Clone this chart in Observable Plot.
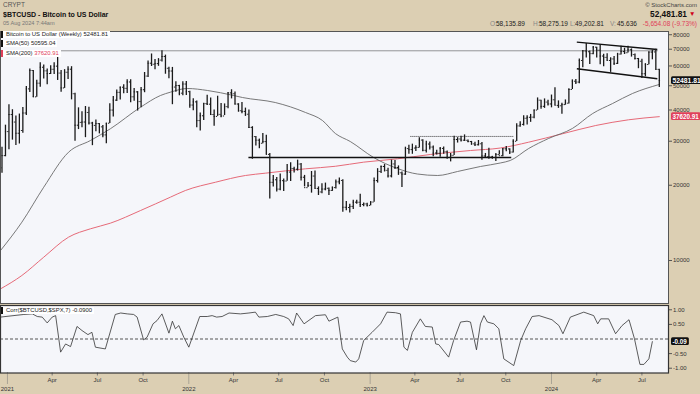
<!DOCTYPE html>
<html><head><meta charset="utf-8">
<script src="https://cdn.jsdelivr.net/npm/d3@7"></script>
<script src="https://cdn.jsdelivr.net/npm/@observablehq/plot@0.6"></script>
<style>
html,body{margin:0;padding:0;background:#dccfb3;}
#chart{position:relative;width:700px;height:394px;background:#dccfb3;overflow:hidden;font-family:"Liberation Sans",Arial,Helvetica,sans-serif;}
.t{position:absolute;white-space:nowrap;line-height:1;}
#price,#corr{position:absolute;left:0;}
#price{top:30px}
#corr{top:303px}
.leg{position:absolute;left:1px;background:#fff;font-size:5.9px;color:#222;padding-right:2px;line-height:7px;height:7px;white-space:nowrap;}
.leg i{display:inline-block;width:2px;height:7px;background:#111;vertical-align:top;margin-right:3px;}
</style></head>
<body><div id="chart">
<div class="t" style="left:3px;top:2px;font-size:6.5px;color:#555">CRYPT</div>
<div class="t" style="left:3px;top:10.8px;font-size:7.4px;font-weight:bold;color:#111;transform:scaleX(0.95);transform-origin:left">$BTCUSD - Bitcoin to US Dollar</div>
<div class="t" style="left:3px;top:20.5px;font-size:5.6px;color:#777">05 Aug 2024 7:44am</div>
<div class="t" style="right:3px;top:1.5px;font-size:6px;color:#444">© StockCharts.com</div>
<div class="t" id="hdrClose" style="right:13px;top:10px;font-size:8.3px;font-weight:bold;color:#111"></div>
<div class="t" style="left:689px;top:10.5px;font-size:6.5px;color:#d0021b">▼</div>
<div class="t" style="left:490px;top:21px;font-size:6.5px;color:#888">O:</div>
<div class="t" style="left:496px;top:21px;font-size:6.5px;color:#222">58,135.89</div>
<div class="t" style="left:533px;top:21px;font-size:6.5px;color:#888">H:</div>
<div class="t" style="left:539px;top:21px;font-size:6.5px;color:#222">58,275.19</div>
<div class="t" style="left:570px;top:21px;font-size:6.5px;color:#888">L:</div>
<div class="t" style="left:575px;top:21px;font-size:6.5px;color:#222">49,202.81</div>
<div class="t" style="left:610px;top:21px;font-size:6.5px;color:#888">V:</div>
<div class="t" style="left:617px;top:21px;font-size:6.5px;color:#222">45.636</div>
<div class="t" style="right:3px;top:21px;font-size:6.5px;color:#e0405a">-5,654.08 (-9.73%)</div>
<div id="price"></div>
<div id="corr"></div>
<div class="leg" style="top:31.2px"><i></i>Bitcoin to US Dollar (Weekly) <span id="lv1"></span></div>
<div class="leg" style="top:40.2px"><i></i>SMA(50) <span id="lv2"></span></div>
<div class="leg" style="top:49.8px"><i style="background:#e0405a"></i>SMA(200) <span id="lv3" style="color:#e0405a"></span></div>
<div class="leg" style="top:306.8px"><i></i>Corr($BTCUSD,$SPX,7) <span id="lv4"></span></div>
</div>
<script>
// ---------- DATA ----------
const weekStart = "2020-12-21"; // first weekly bar (Monday)
const open = [23480,26270,32780,38360,35790,32290,33110,38900,48580,57540,45140,51200,59300,57350,55950,58200,59900,56200,49000,56620,58230,46460,34770,35680,35800,39100,35480,34700,35290,34240,31800,35410,39970,43800,47050,49330,48830,51770,45160,47260,43210,48200,54660,61550,60930,61320,63330,65470,58730,57270,49400,50100,46700,50800,47345,41865,43100,36280,37920,42410,42200,38350,37700,38420,37850,41250,46820,46450,42250,39720,39470,38470,34060,31300,30290,29440,29900,26570,20550,21030,19300,20860,20790,22580,23340,23180,24310,21530,19560,19990,21770,19420,18800,19310,19450,19070,19570,20630,20900,16330,16290,16460,17110,17100,16740,16840,16620,17130,20880,22710,23770,22940,21790,24330,23550,22430,22160,28040,27770,28170,28330,30320,27590,29230,28430,26910,26850,28075,27220,25850,26340,30480,30620,30290,30250,29910,29280,29040,29300,26190,26010,25970,25830,26530,26250,27980,27940,27150,29990,34540,35040,37060,37390,37450,39970,43790,41360,43020,42280,43940,41730,41580,42030,42580,48300,52140,51730,63110,68950,68390,67230,71330,69360,65740,64940,63120,64010,61480,66940,68520,67760,69650,66640,64250,62670,55850,60800,68160,68250,58135.89];
const high = [28400,34780,41950,40100,37850,38530,40950,49700,58350,57540,52640,61780,60600,58400,60100,61800,64850,57500,58000,59600,59600,46640,40800,39400,41300,41000,35700,36500,35300,34700,35400,42400,45300,48100,49400,50500,52900,52900,48800,47400,49200,56500,62800,67000,63700,64200,69000,66300,59300,59200,51900,50200,51900,52000,47500,44400,43500,38900,42600,45800,44700,40000,45400,42500,42300,47000,48200,47200,42400,42900,40700,40000,34300,31300,30600,32200,31700,26800,21900,21500,22200,21200,24200,24600,23600,25200,24450,21900,20500,22700,22800,19700,20300,20400,19500,19700,21000,21400,21050,17200,16800,17400,17400,18400,17000,16950,17200,21400,23300,23900,24200,23400,25200,25100,23900,22600,28400,28900,29200,28800,31000,30400,30000,29800,28700,27600,28300,28450,27400,26800,31400,31000,31400,31800,30350,29950,29700,30200,29680,26800,28150,26100,26800,27500,28050,28600,28000,30400,35200,35900,37950,37950,38400,40000,44700,43800,44300,43800,45900,49050,43500,42600,43880,48600,52800,52950,64000,69200,73800,68900,71700,71350,72800,66900,67200,64700,65500,67400,71950,70600,71950,70200,66950,64300,63800,61300,68350,69400,70000,58275.19];
const low = [22350,25990,27730,30300,28850,29240,32300,37990,47000,44890,44950,49300,53270,50450,55500,55500,52500,47050,48800,53000,43900,30000,33400,34000,31000,34800,28800,32700,32100,31000,29300,35300,37500,43300,43900,46400,46600,42800,43400,39600,40800,46900,53900,59700,58000,59800,62300,55600,53300,42000,47100,45600,45600,45700,40600,39700,34000,32950,36300,41700,38000,34400,37700,37200,38000,40500,44300,41900,39200,38600,37700,33700,25400,28700,28000,29300,26500,17600,19700,18800,19000,18900,20760,20700,22400,22800,20800,19700,19600,18600,19300,18200,18500,19000,18200,18900,19300,20100,15600,15820,15500,16000,16800,16300,16400,16350,16550,17100,20400,22300,22600,21400,21400,23100,21900,19600,21900,26600,26600,27300,28200,27200,26900,27700,26000,26400,25900,26600,25400,24800,26300,29500,29800,29950,29600,28900,28600,28700,25200,25800,25400,25400,24900,26400,26000,27200,26550,26900,29900,34100,34500,34800,35700,36900,39900,40300,40600,41500,40800,41700,40600,38500,41800,42300,48300,50600,50900,59000,64500,60800,66500,64500,60700,59600,62800,56550,60200,60800,66300,66700,67600,65100,63400,58500,53500,54300,60700,63500,57700,49202.81];
const close = [26270,32780,38360,35790,32290,33110,38900,48580,57540,45140,51200,59300,57350,55950,58200,59900,56200,49000,56620,58230,46460,34770,35680,35800,39100,35480,34700,35290,34240,31800,35410,39970,43800,47050,49330,48830,51770,45160,47260,43210,48200,54660,61550,60930,61320,63330,65470,58730,57270,49400,50100,46700,50800,47345,41865,43100,36280,37920,42410,42200,38350,37700,38420,37850,41250,46820,46450,42250,39720,39470,38470,34060,31300,30290,29440,29900,26570,20550,21030,19300,20860,20790,22580,23340,23180,24310,21530,19560,19990,21770,19420,18800,19310,19450,19070,19570,20630,20900,16330,16290,16460,17110,17100,16740,16840,16620,17130,20880,22710,23770,22940,21790,24330,23550,22430,22160,28040,27770,28170,28330,30320,27590,29230,28430,26910,26850,28075,27220,25850,26340,30480,30620,30290,30250,29910,29280,29040,29300,26190,26010,25970,25830,26530,26250,27980,27940,27150,29990,34540,35040,37060,37390,37450,39970,43790,41360,43020,42280,43940,41730,41580,42030,42580,48300,52140,51730,63110,68950,68390,67230,71330,69360,65740,64940,63120,64010,61480,66940,68520,67760,69650,66640,64250,62670,55850,60800,68160,68250,58135.89,52481.81];

const sma50Dates = ["2020-12-18","2021-01-30","2021-03-15","2021-05-04","2021-06-17","2021-07-27","2021-09-26","2021-11-05","2021-11-25","2021-12-29","2022-02-08","2022-04-01","2022-04-19","2022-06-24","2022-08-24","2022-09-27","2022-10-23","2022-11-22","2023-01-08","2023-02-25","2023-04-06","2023-05-17","2023-06-26","2023-08-11","2023-09-20","2023-10-10","2023-11-16","2023-12-26","2024-02-12","2024-03-24","2024-05-03","2024-06-12","2024-08-05"];
const sma50 = [10960,14230,19640,27120,30200,33630,41050,45710,47130,48750,47860,45710,44870,42850,39080,36310,32210,29920,25820,23330,22180,21880,22700,23770,24550,25120,28050,30760,33730,38730,42460,46560,50595.04];

const sma200Dates = ["2020-12-18","2021-01-30","2021-03-15","2021-05-04","2021-06-17","2021-07-27","2021-09-26","2021-11-25","2021-12-25","2022-02-24","2022-04-25","2022-06-04","2022-08-24","2022-10-23","2022-12-19","2023-02-25","2023-05-02","2023-07-22","2023-09-20","2023-11-16","2024-01-23","2024-03-30","2024-06-04","2024-08-05"];
const sma200 = [7700,8710,10310,12400,13390,14100,15850,17920,19050,20570,21880,22350,23270,23820,24740,25510,26550,27540,28180,29730,32130,34670,36540,37620.91];

const corrDates = ["2020-12-18","2021-02-03","2021-02-20","2021-03-02","2021-03-12","2021-03-22","2021-04-01","2021-04-08","2021-04-18","2021-04-28","2021-05-08","2021-05-21","2021-05-31","2021-06-12","2021-06-20","2021-06-27","2021-07-17","2021-08-06","2021-08-17","2021-08-30","2021-09-12","2021-09-19","2021-10-02","2021-10-09","2021-10-21","2021-10-29","2021-11-08","2021-11-22","2021-11-29","2021-12-05","2021-12-12","2021-12-22","2022-01-01","2022-01-23","2022-02-07","2022-02-17","2022-02-26","2022-03-09","2022-03-23","2022-04-15","2022-05-02","2022-05-15","2022-05-22","2022-06-08","2022-06-25","2022-07-11","2022-07-21","2022-07-30","2022-08-06","2022-08-21","2022-09-13","2022-10-03","2022-10-10","2022-10-28","2022-11-06","2022-11-16","2022-11-22","2022-12-03","2022-12-09","2022-12-19","2023-01-05","2023-01-22","2023-02-04","2023-02-21","2023-03-03","2023-03-10","2023-03-17","2023-03-27","2023-04-12","2023-04-22","2023-05-06","2023-05-13","2023-05-19","2023-06-08","2023-06-18","2023-07-02","2023-07-15","2023-07-22","2023-08-03","2023-08-11","2023-08-18","2023-08-25","2023-09-07","2023-09-17","2023-09-27","2023-10-17","2023-10-31","2023-11-10","2023-11-23","2023-12-07","2024-01-02","2024-01-16","2024-01-24","2024-02-08","2024-03-06","2024-03-26","2024-04-03","2024-04-09","2024-04-25","2024-05-09","2024-05-22","2024-06-05","2024-06-16","2024-06-27","2024-07-05","2024-07-15","2024-07-22"];
const corr = [0.75,0.84,0.86,0.77,0.75,0.55,0.75,0.80,-0.45,-0.17,-0.26,0.43,0.29,0.15,0.23,-0.28,-0.34,0.84,0.89,0.86,0.84,0.75,-0.03,0.06,0.52,0.63,0.86,0.20,0.61,0.35,0.46,0.06,-0.28,0.77,0.77,0.80,0.75,0.77,0.89,0.86,0.89,0.92,0.75,0.77,0.84,0.77,0.69,0.46,0.89,0.52,0.80,0.83,0.61,0.75,-0.34,-0.62,-0.74,-0.79,-0.68,-0.05,0.23,0.52,0.92,0.90,0.86,-0.28,-0.39,0.23,0.69,0.43,0.41,-0.17,-0.19,-0.62,-0.05,0.58,0.61,0.58,-0.37,0.52,0.80,0.58,0.52,0.35,-0.68,-0.91,-0.05,0.35,0.77,0.80,0.66,0.46,0.18,0.75,0.92,0.80,0.52,0.69,0.69,0.18,0.46,0.66,0.01,-0.87,-0.87,-0.68,-0.09];

// annotation trendlines drawn on the price panel
const lineFrom  = ["2020-12-18","2022-05-01","2023-03-23","2024-02-21","2024-02-21"];
const lineTo    = ["2024-08-01","2023-10-12","2023-10-16","2024-08-01","2024-08-01"];
const lineStart = [69000,25820,31350,74700,58500];
const lineEnd   = [69000,25820,31350,69800,53300];
const lineDotted = [true,false,true,false,false];

const priceTicks = [10000,20000,30000,40000,50000,60000,70000,80000];
const corrTicks = [1,0.5,-0.5,-1];
const monthTicks = ["2021-04-01","2021-07-01","2021-10-01","2022-04-01","2022-07-01","2022-10-01","2023-04-01","2023-07-01","2023-10-01","2024-04-01","2024-07-01"];
const yearTicks = ["2021-01-01","2022-01-01","2023-01-01","2024-01-01"];

// ---------- BUILD ----------
const parse = d3.utcParse("%Y-%m-%d");
const t0 = parse(weekStart);
const bars = close.map((c, i) => ({date: d3.utcDay.offset(t0, 7 * i), o: open[i], h: high[i], l: low[i], c}));
const sma50Data = sma50Dates.map((d, i) => ({date: parse(d), v: sma50[i]}));
const sma200Data = sma200Dates.map((d, i) => ({date: parse(d), v: sma200[i]}));
const corrData = corrDates.map((d, i) => ({date: parse(d), v: corr[i]}));
const lines = lineFrom.map((d, i) => ({x1: parse(d), x2: parse(lineTo[i]), y1: lineStart[i], y2: lineEnd[i], dotted: lineDotted[i]}));
const xDomain = [new Date(Date.UTC(2020, 11, 18)), new Date(Date.UTC(2024, 7, 23, 12))];
const font = '"Liberation Sans", Arial, Helvetica, sans-serif';
const RED = "#e0405a";
const SMA_RED = "#e66a78";

const lastClose = close[close.length - 1];
const lastS50 = sma50[sma50.length - 1];
const lastS200 = sma200[sma200.length - 1];
const lastCorr = corr[corr.length - 1];

document.getElementById("hdrClose").textContent = d3.format(",.2f")(lastClose);
document.getElementById("lv1").textContent = lastClose.toFixed(2);
document.getElementById("lv2").textContent = lastS50.toFixed(2);
document.getElementById("lv3").textContent = lastS200.toFixed(2);
document.getElementById("lv4").textContent = lastCorr.toFixed(4);

const pricePlot = Plot.plot({
  width: 700, height: 275,
  marginLeft: 0, marginRight: 32, marginTop: 1, marginBottom: 2,
  style: {background: "transparent", fontFamily: font, fontSize: "6px", color: "#333", overflow: "visible"},
  x: {type: "utc", domain: xDomain, axis: null},
  y: {type: "log", domain: [6730, 82414]},
  marks: [
    Plot.frame({fill: "#f5f6fa", stroke: "none"}),
    Plot.line(sma200Data, {x: "date", y: "v", stroke: SMA_RED, strokeWidth: 1, curve: "monotone-x"}),
    Plot.line(sma50Data, {x: "date", y: "v", stroke: "#6a6a6a", strokeWidth: 0.9, curve: "monotone-x"}),
    Plot.link(lines.filter(d => d.dotted), {x1: "x1", x2: "x2", y1: "y1", y2: "y2", stroke: "#333", strokeWidth: 1, strokeDasharray: "1,1"}),
    Plot.link(lines.filter(d => !d.dotted), {x1: "x1", x2: "x2", y1: "y1", y2: "y2", stroke: "#111", strokeWidth: 1.4}),
    Plot.ruleX(bars, {x: "date", y1: "l", y2: "h", stroke: "#1a1a1a", strokeWidth: 1.3}),
    Plot.ruleY(bars, {y: "o", x1: d => d3.utcHour.offset(d.date, -60), x2: "date", stroke: "#1a1a1a", strokeWidth: 1}),
    Plot.ruleY(bars, {y: "c", x1: "date", x2: d => d3.utcHour.offset(d.date, 60), stroke: "#1a1a1a", strokeWidth: 1}),
    Plot.axisY({ticks: priceTicks, anchor: "right", tickFormat: d => String(d), tickSize: 3, tickPadding: 1.5, label: null, stroke: "#555", fill: "#333"}),
    Plot.frame({stroke: "#555", strokeWidth: 1}),
    Plot.text([{v: lastClose}], {y: "v", text: d => d.v.toFixed(2), frameAnchor: "right", textAnchor: "start", dx: 4, fill: "white", fontWeight: "bold", fontSize: 6.8}),
    Plot.text([{v: lastS200}], {y: "v", text: d => d.v.toFixed(2), frameAnchor: "right", textAnchor: "start", dx: 4, fill: "white", fontWeight: "bold", fontSize: 6.3})
  ]
});
document.getElementById("price").append(pricePlot);

const corrPlot = Plot.plot({
  width: 700, height: 91,
  marginLeft: 0, marginRight: 32, marginTop: 2, marginBottom: 21.5,
  style: {background: "transparent", fontFamily: font, fontSize: "6px", color: "#333", overflow: "visible"},
  x: {type: "utc", domain: xDomain},
  y: {domain: [-1.164, 1.147]},
  marks: [
    Plot.frame({fill: "#f5f6fa", stroke: "none"}),
    Plot.ruleY([0], {stroke: "#555", strokeWidth: 1, strokeDasharray: "3,2"}),
    Plot.line(corrData, {x: "date", y: "v", stroke: "#333", strokeWidth: 0.8}),
    Plot.axisY({ticks: corrTicks, anchor: "right", tickFormat: d => d.toFixed(2), tickSize: 3, tickPadding: 1.5, label: null, stroke: "#555", fill: "#333"}),
    Plot.axisX({ticks: monthTicks.map(parse), tickFormat: "%b", tickSize: 3, tickPadding: 2, label: null, stroke: "#777", fill: "#333"}),
    Plot.axisX({ticks: yearTicks.map(parse), tickFormat: "%Y", tickSize: 11, tickPadding: 2.5, label: null, stroke: "#777", strokeDasharray: "1,1", fill: "#333"}),
    Plot.frame({stroke: "#333", strokeWidth: 1.2}),
    Plot.text([{v: lastCorr}], {y: "v", text: d => d.v.toFixed(2), frameAnchor: "right", textAnchor: "start", dx: 4, fill: "white", fontWeight: "bold", fontSize: 6.3})
  ]
});
document.getElementById("corr").append(corrPlot);

// rounded label boxes behind the last-value tags
function boxTags(svg, colors) {
  const groups = svg.querySelectorAll('g[aria-label="text"]');
  groups.forEach((g, gi) => {
    g.querySelectorAll("text").forEach(t => {
      const b = t.getBBox();
      const r = document.createElementNS("http://www.w3.org/2000/svg", "rect");
      r.setAttribute("x", b.x - 1.5);
      r.setAttribute("y", b.y - 0.3);
      r.setAttribute("width", b.width + 3);
      r.setAttribute("height", b.height + 0.6);
      r.setAttribute("rx", 1.5);
      r.setAttribute("fill", colors[gi] || "#111");
      const tr = t.getAttribute("transform");
      if (tr) r.setAttribute("transform", tr);
      g.insertBefore(r, t);
    });
  });
}
boxTags(pricePlot, ["#111", RED]);
boxTags(corrPlot, ["#111"]);
</script>
</body></html>
